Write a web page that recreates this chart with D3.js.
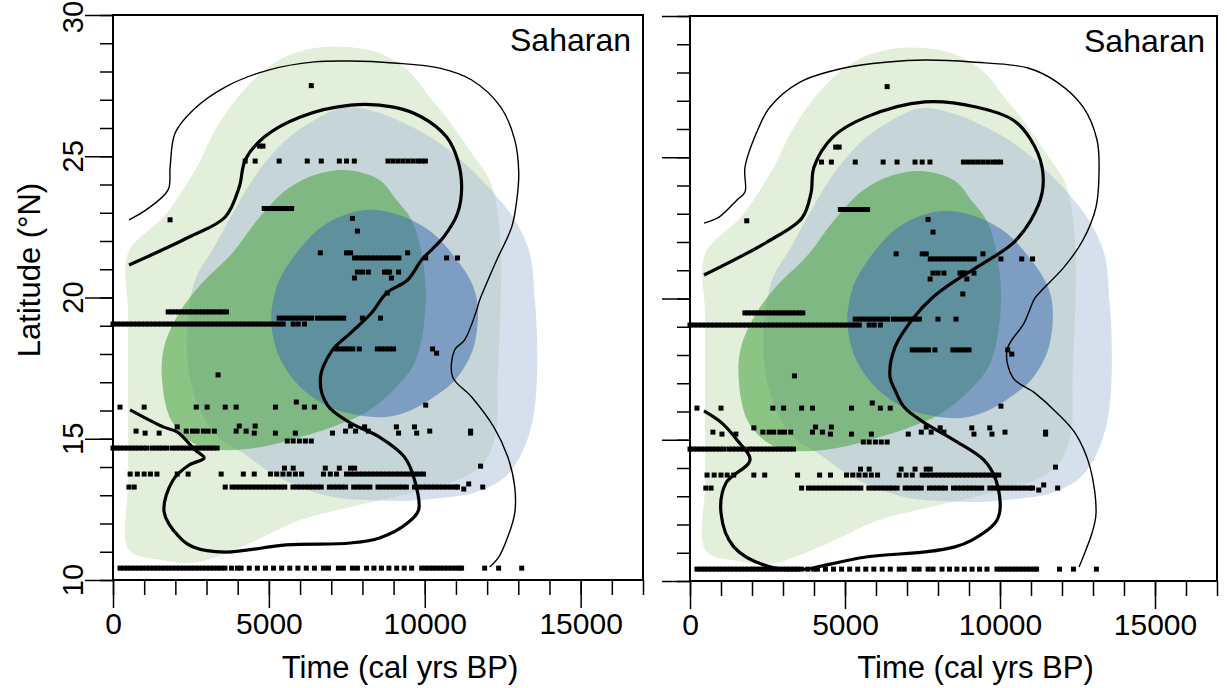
<!DOCTYPE html>
<html lang="en">
<head>
<meta charset="UTF-8">
<title>Saharan</title>
<script src="https://d3js.org/d3.v7.min.js"></script>
<style>
  body { margin: 0; background: #fff; }
  text { font-family: "Liberation Sans", Arial, sans-serif; fill: #000; }
</style>
</head>
<body>
<script>
// axis ticks
const xMajor = [0, 5000, 10000, 15000];
const xMinor = [0, 1000, 2000, 3000, 4000, 5000, 6000, 7000, 8000, 9000, 10000, 11000, 12000, 13000, 14000, 15000, 16000, 17000];
const yMajor = [10, 15, 20, 25, 30];
const yMinor = [10, 11, 12, 13, 14, 15, 16, 17, 18, 19, 20, 21, 22, 23, 24, 25, 26, 27, 28, 29, 30];

// filled density regions [time, latitude]
const lightGreen = [[482,21.57],[1671,22.92],[2635,24.51],[3374,26.11],[4403,27.59],[5335,28.41],[6459,28.83],[7488,28.87],[8548,28.65],[9448,28.05],[10155,27.10],[10830,26.18],[11505,25.11],[12083,24.16],[12308,23.20],[12437,21.68],[12437,19.91],[12404,18.85],[12340,17.08],[12308,15.42],[12019,14.35],[11505,13.79],[10605,13.36],[9577,13.08],[7616,12.58],[6009,12.12],[4403,11.31],[3021,10.71],[2442,10.60],[1543,10.71],[514,11.06],[490,13.5],[485,16.5],[482,19.5]];
const darkGreen = [[7488,24.51],[8548,24.16],[9094,23.45],[9577,22.74],[9898,21.58],[10026,19.7],[9673,17.68],[8998,16.73],[8066,15.91],[7038,15.42],[6009,15.06],[4756,14.71],[3471,14.60],[2571,14.85],[1864,15.66],[1575,17.08],[1639,18.25],[2121,19.45],[2796,20.44],[3824,21.57],[4628,22.74],[5560,23.81],[6459,24.34]];
const lightBlue = [[7488,26.74],[8548,26.53],[9577,26.04],[10476,25.47],[11408,24.62],[12212,23.70],[12886,22.74],[13369,21.57],[13529,19.91],[13594,18.85],[13594,17.08],[13465,15.66],[13111,14.49],[12565,13.64],[11633,13.11],[10476,12.90],[9352,12.80],[8195,12.83],[7038,12.94],[6009,13.29],[5077,13.79],[4178,14.49],[3374,15.06],[2796,16.02],[2442,17.33],[2378,18.85],[2635,20.62],[3246,21.79],[3953,23.20],[4628,24.41],[5560,25.58],[6459,26.28]];
const darkBlue = [[8420,23.10],[9352,22.85],[10251,22.28],[10958,21.43],[11505,20.51],[11697,19.7],[11569,18.25],[11055,17.19],[10476,16.62],[9577,16.02],[8773,15.77],[7841,15.84],[6941,16.12],[6009,16.83],[5335,17.89],[5077,19.10],[5142,19.91],[5335,20.62],[5881,21.57],[6684,22.50],[7616,22.99]];

// contour lines, left panel
const thinLeft = [[514,22.75],[1060,23.10],[1767,23.81],[1832,24.62],[1992,25.82],[2571,26.64],[3599,27.45],[4981,28.05],[6459,28.34],[7616,28.37],[8998,28.30],[10476,28.12],[11505,27.70],[12437,26.74],[12886,25.58],[13015,24.41],[12951,23.45],[12790,22.50],[12308,21.33],[11987,20.51],[11762,19.91],[11633,19.45],[11280,18.50],[10958,18.14],[10894,17.19],[11505,16.48],[12212,15.42],[12661,14.36],[12886,13.29],[12886,12.37],[12661,11.52],[12372,10.81],[12083,10.46]];
const thickLeft = [[514,21.15],[2442,22.14],[3599,22.85],[4049,23.91],[4242,24.87],[4852,25.68],[6009,26.39],[7616,26.81],[8998,26.74],[9898,26.39],[10701,25.68],[11055,24.87],[11183,23.91],[11055,22.99],[10605,22.14],[9898,21.33],[9448,20.62],[8773,20.16],[8291,19.45],[7616,18.74],[7038,18.14],[6652,17.15],[6877,16.19],[7616,15.56],[8548,15.06],[9352,14.35],[9673,13.54],[9802,12.48],[9448,12.02],[8548,11.49],[7616,11.31],[5560,11.24],[3599,10.99],[2571,11.17],[2153,11.49],[1639,12.41],[1928,13.54],[2442,14.07],[2924,14.32],[2635,14.60],[2057,15.24],[1607,15.42],[546,16.02]];

// contour lines, right panel
const thinRight = [[452,22.67],[936,22.88],[1516,23.49],[1774,23.77],[1774,24.65],[2226,26.07],[2581,26.78],[3549,27.66],[4968,28.16],[6387,28.37],[7581,28.44],[9097,28.37],[10904,28.16],[11839,27.66],[12678,26.78],[13130,25.61],[13194,24.44],[13098,23.24],[12678,22.07],[12065,21.11],[11356,20.30],[11130,20.02],[10775,19.13],[10226,18.18],[10420,17.19],[11130,16.65],[11839,15.95],[12420,15.24],[12904,14.03],[13098,12.41],[12968,11.70],[12549,10.50]];
const thickRight = [[452,20.83],[2484,22.00],[3613,22.85],[3903,23.73],[4000,24.65],[4613,25.72],[5678,26.42],[7581,26.96],[9226,26.78],[10420,26.32],[11000,25.61],[11356,24.65],[11356,23.73],[11000,22.78],[10420,21.96],[9484,21.26],[8581,20.65],[7807,20.02],[7226,19.34],[6613,18.28],[6452,17.22],[6613,16.76],[6903,16.16],[7581,15.59],[8516,14.99],[9484,14.28],[9871,13.57],[10000,12.51],[9839,12.05],[9097,11.45],[8516,11.20],[7581,11.03],[5678,10.85],[4129,10.50],[3774,10.42],[2581,10.50],[1419,11.20],[1000,12.41],[1161,13.47],[1936,14.28],[1516,14.99],[1032,15.59],[452,16.02]];

// dated sites: one latitude per row, with the ages found there
const rowLat = [27.5, 25.36, 24.83, 23.15, 22.75, 22.8, 22.35, 21.58, 21.40, 20.90, 20.69, 20.16, 19.49, 19.27, 19.06, 18.18, 18.03, 17.26, 16.3, 16.12, 16.19, 15.45, 15.42, 15.27, 15.20, 14.92, 14.67, 14.03, 13.96, 13.75, 13.40, 13.22, 13.29, 10.42];
const rowTimes = [
  [6360],
  [4700, 4810],
  [4240, 4560, 5330, 6230, 6680, 7260, 7490, 7740, 8820, 8980, 9140, 9300, 9460, 9620, 9780, 9900, 10020],
  [4850, 4960, 5070, 5180, 5290, 5400, 5510, 5620, 5730],
  [1830],
  [7680],
  [7840],
  [6650, 7490, 7620, 9450],
  [7750, 7870, 8000, 8130, 8260, 8390, 8520, 8650, 8780, 8910, 9040, 9170, 10030, 10700, 11050],
  [7840, 8000, 8190, 8710, 8800, 8870, 9160],
  [7745, 8930],
  [8800],
  [1770, 1880, 1990, 2100, 2210, 2320, 2430, 2540, 2650, 2760, 2870, 2980, 3090, 3200, 3310, 3420, 3530, 3640],
  [5330, 5460, 5590, 5720, 5850, 5980, 6110, 6240, 6370, 6560, 6700, 6840, 6980, 7120, 7260, 7400, 8000, 8580],
  [0, 130, 260, 390, 520, 650, 780, 910, 1040, 1170, 1300, 1430, 1560, 1690, 1820, 1950, 2080, 2210, 2340, 2470, 2600, 2730, 2860, 2990, 3120, 3250, 3380, 3510, 3640, 3770, 3900, 4030, 4160, 4290, 4420, 4550, 4680, 4810, 4940, 5070, 5200, 5330, 5460, 5780, 5940, 6140],
  [7170, 7300, 7430, 7560, 7690, 7900, 8480, 8610, 8740, 8870, 9000, 10250],
  [10380],
  [3370],
  [5880],
  [225, 1000, 2670, 3020, 3600, 3950, 5210, 6140, 6460],
  [10030],
  [4050, 4560, 7620],
  [2060, 8070, 9090, 9670],
  [740, 2350, 2550, 2700, 2900, 3050, 3250, 3950, 4270, 7460, 7780, 8190, 10160, 11470],
  [1030, 1480, 4530, 5210, 5850, 7040, 9160, 9740, 11470],
  [5590, 5780, 5980, 6170, 6360],
  [0, 120, 240, 360, 480, 600, 720, 840, 960, 1080, 1250, 1370, 1490, 1610, 1730, 1900, 2020, 2140, 2260, 2380, 2500, 2620, 2740, 2860, 2980, 3100, 3220, 3340],
  [11790],
  [5500, 5780, 6810, 7260, 7620, 7750],
  [550, 780, 1000, 1200, 1410, 2060, 2410, 3470, 4180, 4530, 5050, 5250, 5450, 5650, 5850, 6050, 6750, 6970, 7170, 7490, 7620, 7750, 7880, 8010, 8140, 8270, 8400, 8530, 8660, 8790, 8920, 9050, 9180, 9310, 9440, 9570, 9700, 9830, 9960],
  [11410],
  [11250],
  [510, 680, 3600, 3820, 3950, 4080, 4210, 4340, 4470, 4600, 4730, 4860, 4990, 5120, 5250, 5380, 5510, 5770, 5900, 6030, 6160, 6290, 6420, 6550, 6680, 6940, 7070, 7200, 7330, 7460, 7720, 7850, 7980, 8110, 8240, 8500, 8630, 8760, 8890, 9020, 9150, 9280, 9410, 9670, 9800, 9930, 10060, 10190, 10320, 10450, 10580, 10710, 10840, 10970, 11050, 11860],
  [225, 345, 465, 585, 705, 825, 945, 1065, 1185, 1305, 1425, 1545, 1665, 1785, 1905, 2025, 2145, 2265, 2385, 2505, 2625, 2745, 2865, 2990, 3110, 3230, 3350, 3470, 3590, 3800, 3990, 4110, 4370, 4630, 4890, 5150, 5410, 5670, 5930, 6200, 6460, 6750, 6910, 7230, 7390, 7680, 7840, 8130, 8370, 8610, 8850, 9100, 9340, 9580, 9900, 10020, 10140, 10260, 10380, 10500, 10620, 10740, 10860, 10980, 11100, 11180, 11920, 12370, 13110]
];

const points = [];
rowLat.forEach((lat, i) => rowTimes[i].forEach(t => points.push([t, lat])));

const W = 1227, H = 688;
const svg = d3.select('body').append('svg')
  .attr('width', W)
  .attr('height', H);

const panels = [
  { left: 113, right: 643, top: 15, bottom: 580, yLabels: true, thin: thinLeft, thick: thickLeft },
  { left: 690, right: 1217, top: 16, bottom: 581, yLabels: false, thin: thinRight, thick: thickRight }
];

const regions = [
  { data: lightGreen, fill: '#e2efdb', op: 1 },
  { data: lightBlue, fill: 'rgb(164,184,213)', op: 0.45 },
  { data: darkGreen, fill: 'rgb(70,160,60)', op: 0.55 },
  { data: darkBlue, fill: 'rgb(72,116,178)', op: 0.58 }
];

panels.forEach((p, i) => {
  const x = d3.scaleLinear().domain([0, 17000]).range([p.left, p.right]);
  const y = d3.scaleLinear().domain([10, 30]).range([p.bottom, p.top]);
  const g = svg.append('g');

  g.append('clipPath').attr('id', 'clip' + i)
    .append('rect')
    .attr('x', p.left).attr('y', p.top)
    .attr('width', p.right - p.left).attr('height', p.bottom - p.top);

  const plot = g.append('g').attr('clip-path', `url(#clip${i})`);

  const shape = d3.line()
    .x(d => x(d[0])).y(d => y(d[1]))
    .curve(d3.curveCatmullRomClosed.alpha(0.5));
  const contour = d3.line()
    .x(d => x(d[0])).y(d => y(d[1]))
    .curve(d3.curveCatmullRom.alpha(0.5));

  regions.forEach(r => {
    plot.append('path')
      .attr('d', shape(r.data))
      .attr('fill', r.fill)
      .attr('fill-opacity', r.op);
  });

  plot.append('path').attr('d', contour(p.thin))
    .attr('fill', 'none').attr('stroke', '#000').attr('stroke-width', 1.4);
  plot.append('path').attr('d', contour(p.thick))
    .attr('fill', 'none').attr('stroke', '#000').attr('stroke-width', 3.2);

  // dated points
  g.selectAll('rect.pt')
    .data(points)
    .enter()
    .append('rect')
    .attr('class', 'pt')
    .attr('x', d => x(d[0]) - 2.5)
    .attr('y', d => y(d[1]) - 2.5)
    .attr('width', 5)
    .attr('height', 5)
    .attr('fill', '#000');

  // frame
  g.append('rect')
    .attr('x', p.left).attr('y', p.top)
    .attr('width', p.right - p.left).attr('height', p.bottom - p.top)
    .attr('fill', 'none').attr('stroke', '#000').attr('stroke-width', 2);

  // x axis
  const xa = g.append('g').attr('transform', `translate(0,${p.bottom})`);
  xa.call(d3.axisBottom(x).tickValues(xMinor).tickSize(15).tickSizeOuter(0).tickFormat(''));
  xa.append('g').call(d3.axisBottom(x).tickValues(xMajor).tickSize(28).tickSizeOuter(0).tickPadding(5).tickFormat(d3.format('d')));
  xa.selectAll('.domain').remove();
  xa.selectAll('line').attr('stroke', '#000').attr('stroke-width', 1.5);
  xa.selectAll('text').style('font-size', '30px').attr('font-family', null);

  // y axis
  const ya = g.append('g').attr('transform', `translate(${p.left},0)`);
  ya.call(d3.axisLeft(y).tickValues(yMinor).tickSize(13).tickSizeOuter(0).tickFormat(''));
  ya.append('g').call(d3.axisLeft(y).tickValues(yMajor).tickSize(28).tickSizeOuter(0).tickFormat(''));
  ya.selectAll('.domain').remove();
  ya.selectAll('line').attr('stroke', '#000').attr('stroke-width', 1.5);

  if (p.yLabels) {
    // top label is nudged down so it stays inside the page
    g.selectAll('text.ylab')
      .data(yMajor)
      .enter()
      .append('text')
      .attr('class', 'ylab')
      .attr('transform', d => `translate(${p.left - 30},${Math.max(y(d), 17)}) rotate(-90)`)
      .attr('text-anchor', 'middle')
      .style('font-size', '29px')
      .text(d => d);
    g.append('text')
      .attr('transform', `translate(40,270) rotate(-90)`)
      .attr('text-anchor', 'middle')
      .style('font-size', '31px')
      .text('Latitude (°N)');
  }

  g.append('text')
    .attr('x', (p.left + p.right) / 2 + 22)
    .attr('y', 678)
    .attr('text-anchor', 'middle')
    .style('font-size', '31px')
    .text('Time (cal yrs BP)');

  g.append('text')
    .attr('x', p.right - 12)
    .attr('y', p.top + 36)
    .attr('text-anchor', 'end')
    .style('font-size', '32px')
    .text('Saharan');
});
</script>
</body>
</html>
